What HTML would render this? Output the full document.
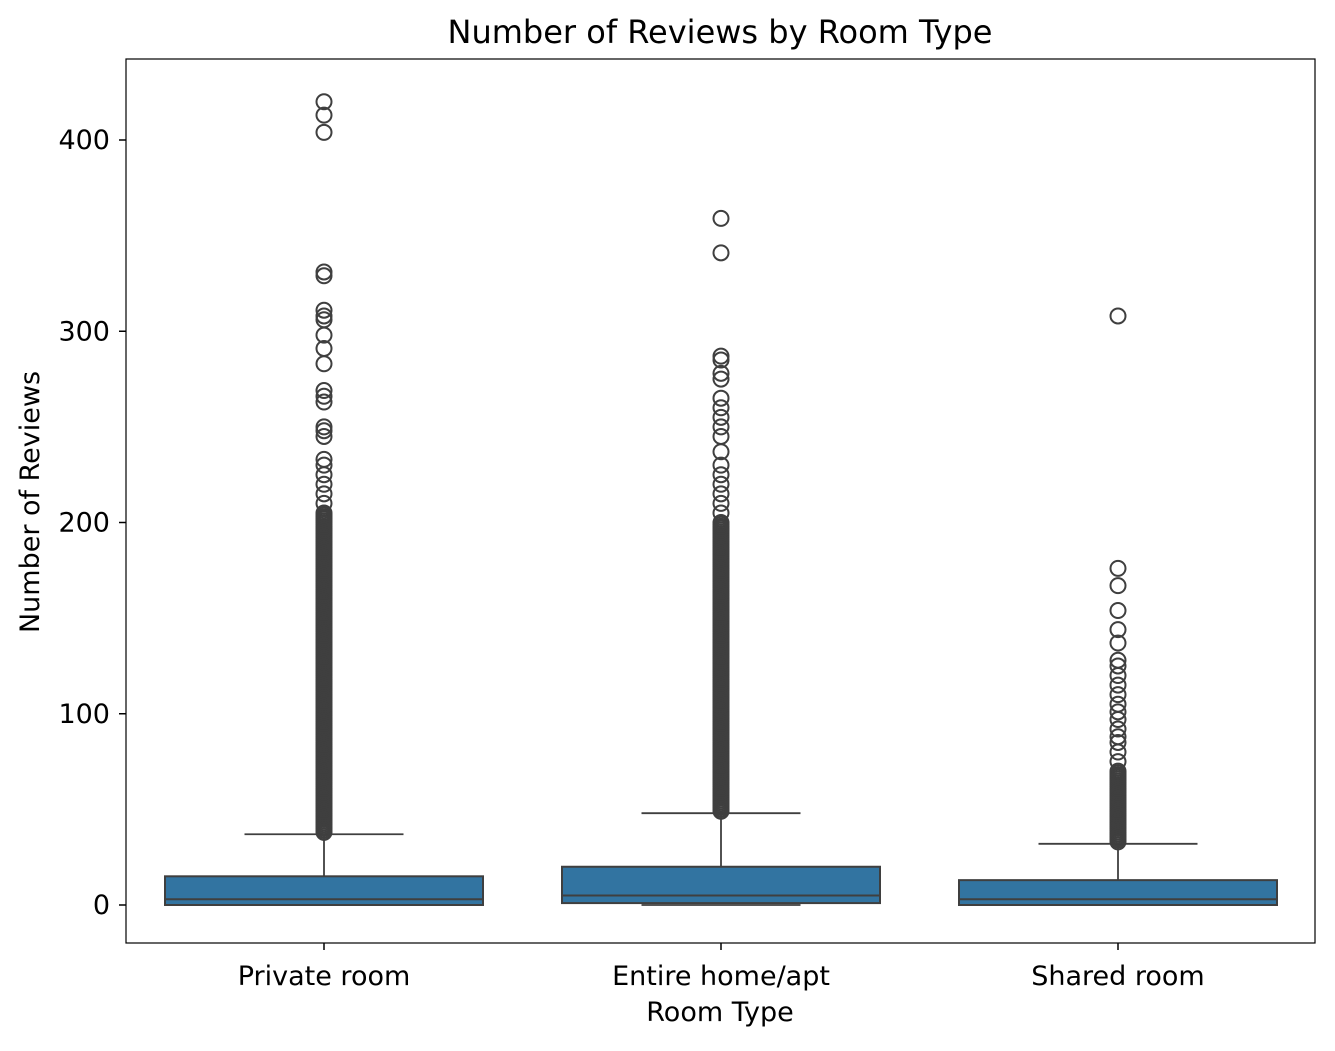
<!DOCTYPE html>
<html><head><meta charset="utf-8"><style>
body{margin:0;background:#fff;}
svg text{font-family:"DejaVu Sans","Liberation Sans",sans-serif;fill:#000;}
</style></head><body>
<svg id="chart" width="1335" height="1046" xmlns="http://www.w3.org/2000/svg">
<rect width="1335" height="1046" fill="#fff"/>
<g id="marks"></g>
<rect x="126" y="59" width="1189" height="884" fill="none" stroke="#000" stroke-width="1.2"/>
<text x="720" y="43" style="font-size:32px" text-anchor="middle">Number of Reviews by Room Type</text>
<text x="720" y="1021" style="font-size:27px" text-anchor="middle">Room Type</text>
<text x="0" y="0" style="font-size:27px" text-anchor="middle" transform="translate(39,502) rotate(-90)">Number of Reviews</text>
<g id="axes"></g>
</svg>
<script>
const categories=["Private room","Entire home/apt","Shared room"];
const q1=[0,1,0];
const median=[3,5,3];
const q3=[15,20,13];
const whiskerLow=[0,0,0];
const whiskerHigh=[37,48,32];
const denseLow=[38,49,33];
const denseHigh=[205,200,70];
const outliers=[
 [210,215,220,225,230,233,245,248,250,263,266,269,283,291,298,306,308,311,329,331,404,413,420],
 [205,210,215,220,225,230,237,245,250,255,260,265,275,278,285,287,341,359],
 [75,80,85,88,92,97,101,105,110,115,120,125,128,137,144,154,167,176,308]
];
const yTicks=[0,100,200,300,400];

const NS="http://www.w3.org/2000/svg";
const y=v=>905-v*1.9125;
const x=i=>324+i*397;
const boxW=318;
function mk(tag,attrs,parent){const e=document.createElementNS(NS,tag);for(const k in attrs)e.setAttribute(k,attrs[k]);parent.appendChild(e);return e;}
const marks=document.getElementById('marks');
const axes=document.getElementById('axes');
const stroke="#3f3f3f";
categories.forEach((c,i)=>{
 const cx=x(i);
 const g=mk('g',{},marks);
 
 
 mk('line',{x1:cx,x2:cx,y1:y(q3[i]),y2:y(whiskerHigh[i]),stroke:stroke,'stroke-width':1.8},g);
 mk('line',{x1:cx-boxW/4,x2:cx+boxW/4,y1:y(whiskerHigh[i]),y2:y(whiskerHigh[i]),stroke:stroke,'stroke-width':1.8},g);
 mk('line',{x1:cx-boxW/4,x2:cx+boxW/4,y1:y(whiskerLow[i]),y2:y(whiskerLow[i]),stroke:stroke,'stroke-width':1.8},g);
 mk('rect',{x:cx-boxW/2,y:y(q3[i]),width:boxW,height:y(q1[i])-y(q3[i]),fill:"#3274a1",stroke:stroke,'stroke-width':2},g);
 mk('line',{x1:cx-boxW/2,x2:cx+boxW/2,y1:y(median[i]),y2:y(median[i]),stroke:stroke,'stroke-width':2},g);
 for(let v=denseLow[i];v<=denseHigh[i];v+=1){
  const p=mk('circle',{cx:cx,cy:y(v),r:7.5,fill:"none",stroke:stroke,'stroke-width':2},g);
  
  
 }
 outliers[i].forEach(v=>{
  const p=mk('circle',{cx:cx,cy:y(v),r:7.5,fill:"none",stroke:stroke,'stroke-width':2},g);
  
  
 });
 mk('line',{x1:cx,x2:cx,y1:943,y2:950,stroke:"#000",'stroke-width':1.5},axes);
 const t=mk('text',{x:cx,y:985,style:'font-size:27px','text-anchor':'middle'},axes);
 t.textContent=c;
 
 
});
yTicks.forEach(v=>{
 mk('line',{x1:119,x2:126,y1:y(v),y2:y(v),stroke:"#000",'stroke-width':1.5},axes);
 const t=mk('text',{x:110,y:y(v)+9,style:'font-size:27px','text-anchor':'end'},axes);
 t.textContent=v;
 
 
});
</script>
</body></html>
